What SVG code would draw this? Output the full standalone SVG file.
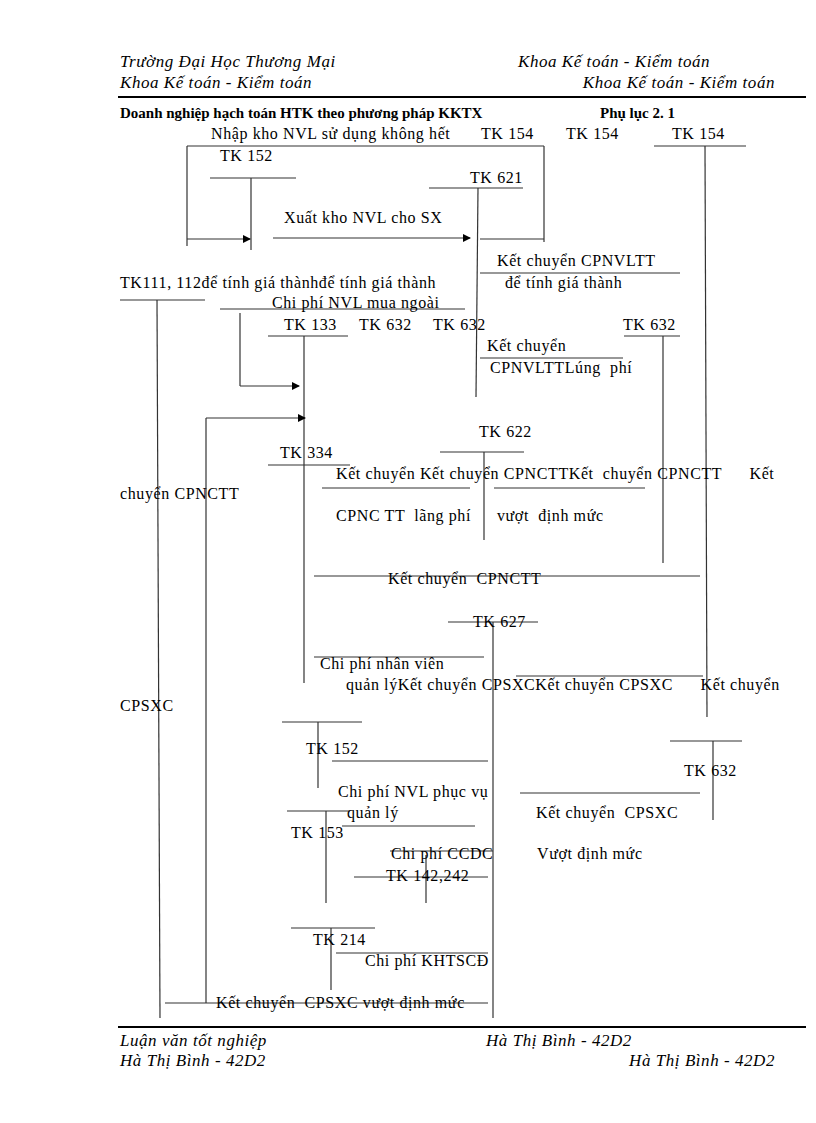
<svg xmlns="http://www.w3.org/2000/svg" width="816" height="1123" viewBox="0 0 816 1123">
<defs>
<marker id="ah" markerWidth="8" markerHeight="8" refX="7" refY="4" orient="auto" markerUnits="userSpaceOnUse"><path d="M0,0 L8,4 L0,8 Z" fill="#000"/></marker>
<style>
text{font-family:"Liberation Serif",serif;font-size:16px;letter-spacing:0.6px;fill:#000}
.h{font-style:italic;font-size:17px;letter-spacing:0.55px}
.b{font-weight:bold;font-size:15px;letter-spacing:0}
line{stroke:#333;stroke-width:1.2}
.r{stroke:#000;stroke-width:2}
.a{marker-end:url(#ah)}
</style>
</defs>
<rect width="816" height="1123" fill="#fff"/>
<g id="header">
<text class="h" x="120" y="67">Trường Đại Học Thương Mại</text>
<text class="h" x="518" y="67">Khoa Kế toán - Kiểm toán</text>
<text class="h" x="120" y="88">Khoa Kế toán - Kiểm toán</text>
<text class="h" x="775" y="88" text-anchor="end">Khoa Kế toán - Kiểm toán</text>
<line class="r" x1="118" y1="97" x2="806" y2="97"/>
<text class="b" x="120" y="118">Doanh nghiệp hạch toán HTK theo phương pháp KKTX</text>
<text class="b" x="600" y="118">Phụ lục 2. 1</text>
</g>
<g id="footer">
<line class="r" x1="118" y1="1027" x2="806" y2="1027"/>
<text class="h" x="120" y="1046">Luận văn tốt nghiệp</text>
<text class="h" x="486" y="1046">Hà Thị Bình - 42D2</text>
<text class="h" x="120" y="1066">Hà Thị Bình - 42D2</text>
<text class="h" x="775" y="1066" text-anchor="end">Hà Thị Bình - 42D2</text>
</g>
<g id="connectors">
<line x1="187" y1="146" x2="544" y2="146"/>
<line x1="187" y1="146" x2="187" y2="246"/>
<line x1="544" y1="146" x2="544" y2="242"/>
<line x1="210" y1="178" x2="296" y2="178"/>
<line x1="251" y1="178" x2="251" y2="250"/>
<line class="a" x1="187" y1="239" x2="250" y2="239"/>
<line x1="429" y1="188" x2="523" y2="188"/>
<line x1="478" y1="188" x2="476" y2="397"/>
<line class="a" x1="273" y1="238" x2="470" y2="238"/>
<line x1="480" y1="239" x2="544" y2="239"/>
<line x1="654" y1="146" x2="746" y2="146"/>
<line x1="705" y1="146" x2="707" y2="717"/>
<line x1="480" y1="273" x2="680" y2="273"/>
<line x1="120" y1="300" x2="205" y2="300"/>
<line x1="157" y1="300" x2="160" y2="1018"/>
<line x1="220" y1="309" x2="465" y2="309"/>
<line x1="240" y1="313" x2="240" y2="386"/>
<line class="a" x1="240" y1="386" x2="299" y2="386"/>
<line x1="268" y1="336" x2="348" y2="336"/>
<line x1="304" y1="336" x2="304" y2="683"/>
<line x1="624" y1="336" x2="680" y2="336"/>
<line x1="663" y1="336" x2="663" y2="563"/>
<line x1="480" y1="358" x2="623" y2="358"/>
<line x1="206" y1="418" x2="206" y2="1003"/>
<line class="a" x1="206" y1="418" x2="305" y2="418"/>
<line x1="440" y1="452" x2="524" y2="452"/>
<line x1="484" y1="452" x2="484" y2="540"/>
<line x1="268" y1="465" x2="350" y2="465"/>
<line x1="322" y1="488" x2="470" y2="488"/>
<line x1="494" y1="488" x2="645" y2="488"/>
<line x1="314" y1="576" x2="700" y2="576"/>
<line x1="448" y1="622" x2="538" y2="622"/>
<line x1="493" y1="622" x2="493" y2="1018"/>
<line x1="314" y1="657" x2="484" y2="657"/>
<line x1="516" y1="676" x2="703" y2="676"/>
<line x1="282" y1="722" x2="362" y2="722"/>
<line x1="318" y1="722" x2="318" y2="788"/>
<line x1="332" y1="761" x2="488" y2="761"/>
<line x1="670" y1="741" x2="742" y2="741"/>
<line x1="713" y1="741" x2="713" y2="820"/>
<line x1="520" y1="793" x2="700" y2="793"/>
<line x1="287" y1="811" x2="350" y2="811"/>
<line x1="326" y1="811" x2="326" y2="903"/>
<line x1="342" y1="826" x2="475" y2="826"/>
<line x1="390" y1="851" x2="493" y2="851"/>
<line x1="354" y1="877" x2="488" y2="877"/>
<line x1="426" y1="855" x2="426" y2="903"/>
<line x1="291" y1="928" x2="375" y2="928"/>
<line x1="331" y1="928" x2="331" y2="990"/>
<line x1="336" y1="953" x2="488" y2="953"/>
<line x1="165" y1="1003" x2="488" y2="1003"/>
</g>
<g id="labels">
<text x="211" y="139">Nhập kho NVL sử dụng không hết</text>
<text x="481" y="139">TK 154</text>
<text x="566" y="139">TK 154</text>
<text x="672" y="139">TK 154</text>
<text x="220" y="161">TK 152</text>
<text x="470" y="183">TK 621</text>
<text x="284" y="223">Xuất kho NVL cho SX</text>
<text x="497" y="266">Kết chuyển CPNVLTT</text>
<text x="505" y="288">để tính giá thành</text>
<text x="120" y="288">TK111, 112để tính giá thànhđể tính giá thành</text>
<text x="272" y="308">Chi phí NVL mua ngoài</text>
<text x="284" y="330">TK 133</text>
<text x="359" y="330">TK 632</text>
<text x="433" y="330">TK 632</text>
<text x="623" y="330">TK 632</text>
<text x="487" y="351">Kết chuyển</text>
<text x="490" y="373" xml:space="preserve">CPNVLTTLúng  phí</text>
<text x="479" y="437">TK 622</text>
<text x="280" y="458">TK 334</text>
<text x="336" y="479" xml:space="preserve">Kết chuyển Kết chuyển CPNCTTKết  chuyển CPNCTT      Kết</text>
<text x="120" y="499">chuyển CPNCTT</text>
<text x="336" y="521" xml:space="preserve">CPNC TT  lãng phí</text>
<text x="497" y="521" xml:space="preserve">vượt  định mức</text>
<text x="388" y="584" xml:space="preserve">Kết chuyển  CPNCTT</text>
<text x="473" y="627">TK 627</text>
<text x="320" y="669">Chi phí nhân viên</text>
<text x="346" y="690" xml:space="preserve">quản lýKết chuyển CPSXCKết chuyển CPSXC      Kết chuyển</text>
<text x="120" y="711">CPSXC</text>
<text x="306" y="754">TK 152</text>
<text x="684" y="776">TK 632</text>
<text x="338" y="797">Chi phí NVL phục vụ</text>
<text x="347" y="818">quản lý</text>
<text x="536" y="818" xml:space="preserve">Kết chuyển  CPSXC</text>
<text x="291" y="838">TK 153</text>
<text x="391" y="859">Chi phí CCDC</text>
<text x="537" y="859">Vượt định mức</text>
<text x="386" y="881">TK 142,242</text>
<text x="313" y="945">TK 214</text>
<text x="365" y="966">Chi phí KHTSCĐ</text>
<text x="216" y="1008" xml:space="preserve">Kết chuyển  CPSXC vượt định mức</text>
</g>
</svg>
